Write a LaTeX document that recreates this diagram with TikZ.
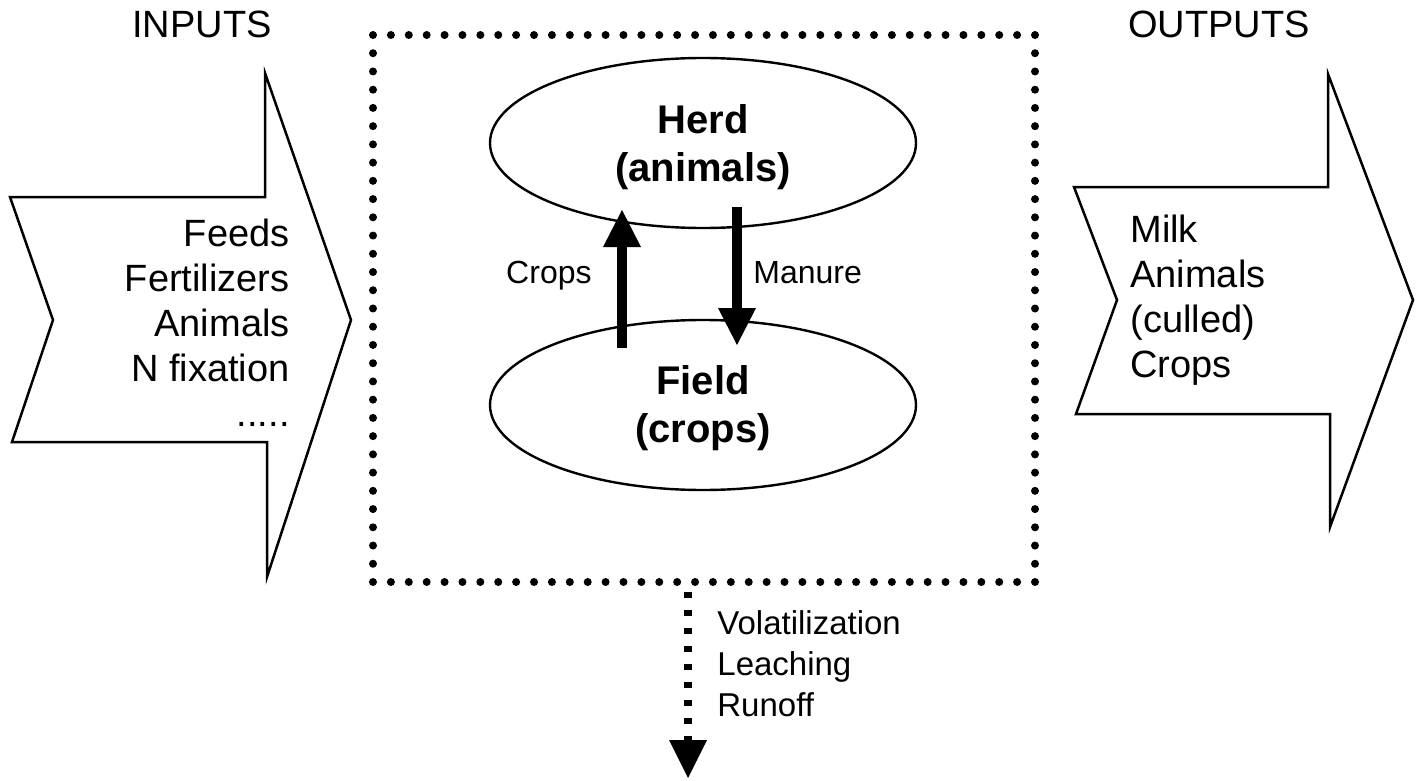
\documentclass[tikz,border=0pt]{standalone}
\usepackage{fontspec}
\setmainfont{Liberation Sans}
\usetikzlibrary{arrows.meta,shapes.geometric}
\begin{document}
\begin{tikzpicture}[x=0.5pt,y=-0.5pt,
  bigtxt/.style={font=\fontsize{19}{22.5}\selectfont, inner sep=0pt},
  boldtxt/.style={font=\bfseries\fontsize{20}{24}\selectfont, inner sep=0pt, align=center},
  smalltxt/.style={font=\fontsize{16}{20}\selectfont, inner sep=0pt},
  losstxt/.style={font=\fontsize{16.5}{20.5}\selectfont, inner sep=0pt, align=left},
  fatarrow/.style={draw=black, line width=1.25pt, fill=white, line join=miter},
  pool/.style={draw=black, line width=1.2pt, ellipse, inner sep=0pt, minimum width=213pt, minimum height=85pt},
  dotline/.style={line width=4pt, line cap=round},
  flow/.style={line width=5pt, -{Triangle[width=19pt,length=18.5pt,line width=0pt]}},
  lossflow/.style={line width=4pt, dash pattern=on 3pt off 6pt, -{Triangle[width=19pt,length=19pt,line width=0pt]}}
]
\useasboundingbox (0,0) rectangle (1419,781);

% titles
\node[bigtxt, anchor=base] (inputs) at (202,38) {INPUTS};
\node[bigtxt, anchor=base] (outputs) at (1219,38) {OUTPUTS};

% big input arrow
\draw[fatarrow] (10,197) -- (265,197) -- (265,73) -- (351,320) -- (267,577)
  -- (267,442) -- (12,442) -- (53,320) -- cycle;
\node[bigtxt, align=right, anchor=east] (intxt) at (290,323.2)
  {Feeds\\Fertilizers\\Animals\\N fixation\\.....};

% big output arrow
\draw[fatarrow] (1074,187) -- (1328,187) -- (1328,74) -- (1413,300) -- (1330,527)
  -- (1330,414) -- (1076,414) -- (1117,300) -- cycle;
\node[bigtxt, align=left, anchor=west] (outtxt) at (1130,300)
  {Milk\\Animals\\(culled)\\Crops};

% dotted farm boundary
\coordinate (tl) at (373,35);
\coordinate (tr) at (1035,35);
\coordinate (br) at (1035,582);
\coordinate (bl) at (373,582);
\draw[dotline, dash pattern=on 0pt off 8.946pt] (tl) -- (tr);
\draw[dotline, dash pattern=on 0pt off 9.117pt] (tr) -- (br);
\draw[dotline, dash pattern=on 0pt off 8.946pt] (br) -- (bl);
\draw[dotline, dash pattern=on 0pt off 9.117pt] (bl) -- (tl);

% pools
\node[pool] (herd) at (703,143) {};
\node[pool] (field) at (703,405) {};
\node[boldtxt] (herdtxt) at (703,146.7) {Herd\\(animals)};
\node[boldtxt] (fieldtxt) at (703,408.6) {Field\\(crops)};

% internal flows
\coordinate (cropsS) at (622,348);
\coordinate (cropsE) at (622,210);
\coordinate (manS) at (737,207);
\coordinate (manE) at (737,345);
\draw[flow] (cropsS) -- (cropsE);
\draw[flow] (manS) -- (manE);
\node[smalltxt, anchor=base east] (cropslbl) at (592,283) {Crops};
\node[smalltxt, anchor=base west] (manlbl) at (753,283) {Manure};

% losses
\coordinate (lossS) at (688,592);
\coordinate (lossE) at (688,778);
\draw[lossflow] (lossS) -- (lossE);
\node[losstxt, anchor=west] (losslbl) at (717,664) {Volatilization\\Leaching\\Runoff};
\end{tikzpicture}
\end{document}
